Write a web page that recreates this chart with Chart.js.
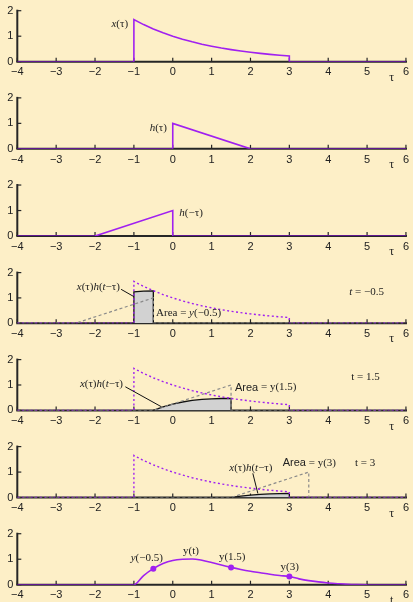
<!DOCTYPE html>
<html><head><meta charset="utf-8">
<script src="https://cdn.jsdelivr.net/npm/chart.js@4"></script>
<style>
html,body{margin:0;padding:0;background:#FDEFC7;width:413px;height:602px;overflow:hidden;position:relative;}
canvas{position:absolute;left:0;}
</style></head><body>
<script>
// ---- data ----
const xTickValues = [-4,-3,-2,-1,0,1,2,3,4,5,6];
const yTickValues = [0,1,2];

// x(tau)
const tauX   = [-1,-0.75,-0.5,-0.25,0,0.25,0.5,0.75,1,1.25,1.5,1.75,2,2.25,2.5,2.75,3];
const xOfTau = [1.65,1.455,1.284,1.133,1.0,0.883,0.779,0.687,0.607,0.535,0.472,0.417,0.368,0.325,0.287,0.253,0.223];
// h(tau)
const tauH  = [0,2];
const hOfTau = [1,0];
// h(-tau)
const tauHflip = [-2,0];
const hFlip    = [0,1];
// t = -0.5
const tauH4 = [-2.5,-0.5];
const h4    = [0,1];
const tauP4 = [-1,-0.75,-0.5];
const p4    = [1.24,1.27,1.28];
// t = 1.5
const tauH5 = [-0.5,1.5];
const h5    = [0,1];
const tauP5 = [-0.5,-0.25,0,0.25,0.5,0.75,1,1.25,1.5];
const p5    = [0,0.14,0.25,0.33,0.39,0.43,0.455,0.468,0.472];
// t = 3 panel
const tauH6 = [1.5,3.5];
const h6    = [0,1];
const tauP6 = [1.5,1.75,2,2.25,2.5,2.75,3];
const p6    = [0,0.052,0.092,0.122,0.143,0.158,0.167];
// y(t)
const tOut = [-1,-0.75,-0.5,-0.25,0,0.25,0.5,0.75,1,1.25,1.5,1.75,2,2.25,2.5,2.75,3,3.25,3.5,3.75,4,4.25,4.5,4.75,5];
const yOut = [0,0.36,0.63,0.83,0.95,1.0,1.01,0.96,0.87,0.77,0.68,0.60,0.53,0.47,0.41,0.36,0.32,0.23,0.16,0.11,0.07,0.04,0.015,0.004,0];
const markT = [-0.5,1.5,3];
const markY = [0.63,0.68,0.32];

// ---- styling / helpers ----
const PURPLE = '#A020F0', DARKP = '#7414B4', INK = '#222';
const PITCH = 87.17;
const I = 'italic 11px "Liberation Serif"', R = '11px "Liberation Serif"', S = '11px "Liberation Sans"';

function pts(xs, ys){ return xs.map((x,k)=>({x, y:ys[k]})); }
function zeroExt(xs, ys){
  const p = [{x:-4,y:0},{x:xs[0],y:0}].concat(pts(xs,ys));
  p.push({x:xs[xs.length-1],y:0},{x:6,y:0});
  return p;
}
function closed(xs, ys){
  const p = [{x:xs[0],y:0}].concat(pts(xs,ys));
  p.push({x:xs[xs.length-1],y:0});
  return p;
}
function drawRich(ctx, segs, x, y, align){
  let w=0; segs.forEach(s=>{ctx.font=s[1]; w+=ctx.measureText(s[0]).width;});
  let cx = align==='right'? x-w : align==='center'? x-w/2 : x;
  ctx.textBaseline='middle'; ctx.textAlign='left'; ctx.fillStyle=INK;
  segs.forEach(s=>{ctx.font=s[1]; ctx.fillText(s[0],cx,y); cx+=ctx.measureText(s[0]).width;});
}
function solidLine(data){
  return {data, borderColor:PURPLE, borderWidth:1.6, pointRadius:0, fill:false, tension:0,
    segment:{borderColor:c=>(c.p0.parsed.y===0&&c.p1.parsed.y===0)?DARKP:PURPLE}};
}
function dottedX(){ return {data:zeroExt(tauX,xOfTau), borderColor:PURPLE, borderWidth:1.4, borderDash:[2,2.5], pointRadius:0, fill:false}; }
function dashedH(xs,ys){ return {data:zeroExt(xs,ys), borderColor:'#8a8a8a', borderWidth:1.2, borderDash:[3,2.5], pointRadius:0, fill:false}; }
function product(xs,ys){ return {data:closed(xs,ys), borderColor:'#111', borderWidth:1.3, backgroundColor:'#D2D2D2', pointRadius:0, fill:'origin'}; }

function makeChart(i, datasets, notes, leaders, axisName){
  const top = Math.round(PITCH*i), off = PITCH*i - top;
  const cv = document.createElement('canvas');
  cv.width=413; cv.height=87; cv.style.top=top+'px';
  document.body.appendChild(cv);
  const plug = {
    id:'deco'+i,
    beforeDatasetsDraw(chart){
      const ctx=chart.ctx, xs=chart.scales.x, ys=chart.scales.y;
      const y0=ys.getPixelForValue(0), x0=xs.getPixelForValue(-4);
      ctx.save(); ctx.strokeStyle='#262626'; ctx.lineWidth=2;
      ctx.beginPath(); ctx.moveTo(x0-1,y0); ctx.lineTo(xs.getPixelForValue(6)+1,y0); ctx.stroke();
      ctx.beginPath(); ctx.moveTo(x0,y0); ctx.lineTo(x0,ys.getPixelForValue(2)-1); ctx.stroke();
      ctx.lineWidth=1.2;
      xTickValues.forEach(v=>{const px=xs.getPixelForValue(v); ctx.beginPath(); ctx.moveTo(px,y0); ctx.lineTo(px,y0-4); ctx.stroke();});
      yTickValues.forEach(v=>{const py=ys.getPixelForValue(v); ctx.beginPath(); ctx.moveTo(x0,py); ctx.lineTo(x0+4,py); ctx.stroke();});
      ctx.restore();
    },
    afterDatasetsDraw(chart){
      const ctx=chart.ctx, xs=chart.scales.x, ys=chart.scales.y;
      ctx.save();
      (leaders||[]).forEach(l=>{
        ctx.strokeStyle='#111'; ctx.lineWidth=1; ctx.beginPath();
        ctx.moveTo(xs.getPixelForValue(l[0]),ys.getPixelForValue(l[1]));
        ctx.lineTo(xs.getPixelForValue(l[2]),ys.getPixelForValue(l[3])); ctx.stroke();
      });
      (notes||[]).forEach(n=>drawRich(ctx,n.segs,xs.getPixelForValue(n.x),ys.getPixelForValue(n.y),n.align));
      drawRich(ctx,[[axisName,'12px "Liberation Serif"']],xs.getPixelForValue(5.63),ys.getPixelForValue(0)+16,'center');
      ctx.restore();
    }
  };
  new Chart(cv,{type:'line', data:{datasets}, options:{
    responsive:false, animation:false, devicePixelRatio:1,
    layout:{padding:{top:10.7+off,right:3.7,left:0,bottom:0}},
    plugins:{legend:{display:false},tooltip:{enabled:false}},
    scales:{
      x:{type:'linear',min:-4,max:6,grid:{display:false,drawTicks:false},border:{display:false},
         afterBuildTicks(s){ s.ticks = xTickValues.map(v=>({value:v})); },
         ticks:{padding:4,color:INK,font:{family:'Liberation Sans',size:11},maxRotation:0,autoSkip:false,
           callback:v=>v<0?'\u2212'+Math.abs(v):String(v)},
         afterFit(s){ s.height = 25.3-off; }},
      y:{min:0,max:2,grid:{display:false,drawTicks:false},border:{display:false},
         afterBuildTicks(s){ s.ticks = yTickValues.map(v=>({value:v})); },
         ticks:{padding:4,color:INK,font:{family:'Liberation Sans',size:11}},
         afterFit(s){ s.width = 17.3; }}
    }}, plugins:[plug]});
}

const xtEq = [['x',I],['(τ)',R],['h',I],['(',R],['t',I],['\u2212τ)',R]];

makeChart(0,[solidLine(zeroExt(tauX,xOfTau))],
  [{x:-1.15,y:1.48,align:'right',segs:[['x',I],['(τ)',R]]}],null,'τ');
makeChart(1,[solidLine(zeroExt(tauH,hOfTau))],
  [{x:-0.15,y:0.82,align:'right',segs:[['h',I],['(τ)',R]]}],null,'τ');
makeChart(2,[solidLine(zeroExt(tauHflip,hFlip))],
  [{x:0.17,y:0.9,align:'left',segs:[['h',I],['(\u2212τ)',R]]}],null,'τ');
makeChart(3,[dottedX(),dashedH(tauH4,h4),product(tauP4,p4)],
  [{x:-1.36,y:1.43,align:'right',segs:xtEq},
   {x:-0.43,y:0.39,align:'left',segs:[['Area = ',R],['y',I],['(\u22120.5)',R]]},
   {x:4.54,y:1.24,align:'left',segs:[['t',I],[' = \u22120.5',R]]}],
  [[-1.33,1.34,-1.0,1.05]],'τ');
makeChart(4,[dottedX(),dashedH(tauH5,h5),product(tauP5,p5)],
  [{x:-1.28,y:1.02,align:'right',segs:xtEq},
   {x:1.6,y:0.9,align:'left',segs:[['Area',S],[' = y(1.5)',R]]},
   {x:4.59,y:1.32,align:'left',segs:[['t = 1.5',R]]}],
  [[-1.22,0.93,-0.29,0.14]],'τ');
makeChart(5,[dottedX(),dashedH(tauH6,h6),product(tauP6,p6)],
  [{x:2.01,y:1.14,align:'center',segs:xtEq},
   {x:2.83,y:1.34,align:'left',segs:[['Area',S],[' = y(3)',R]]},
   {x:4.69,y:1.34,align:'left',segs:[['t = 3',R]]}],
  [[2.06,0.95,2.19,0.16]],'τ');
makeChart(6,[
   {data:pts(markT,markY),showLine:false,pointRadius:3,pointBackgroundColor:PURPLE,pointBorderWidth:0,borderColor:PURPLE},
   Object.assign(solidLine([{x:-4,y:0}].concat(pts(tOut,yOut),[{x:6,y:0}])),{cubicInterpolationMode:'monotone'})],
  [{x:-0.67,y:1.06,align:'center',segs:[['y',I],['(\u22120.5)',R]]},
   {x:0.47,y:1.32,align:'center',segs:[['y(t)',R]]},
   {x:1.53,y:1.1,align:'center',segs:[['y(1.5)',R]]},
   {x:3.01,y:0.68,align:'center',segs:[['y(3)',R]]}],null,'t');
</script>
</body></html>
